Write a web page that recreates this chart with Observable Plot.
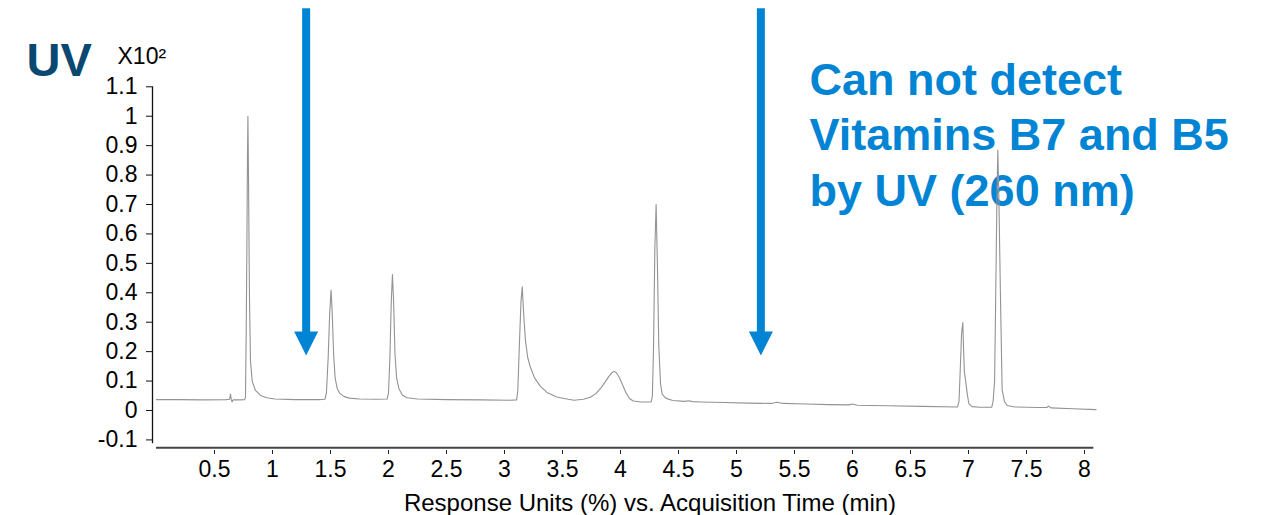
<!DOCTYPE html>
<html>
<head>
<meta charset="utf-8">
<script src="https://cdn.jsdelivr.net/npm/d3@7"></script>
<script src="https://cdn.jsdelivr.net/npm/@observablehq/plot@0.6"></script>
<style>
  html, body { margin: 0; padding: 0; background: #ffffff; }
  #chart { width: 1261px; height: 515px; }
</style>
</head>
<body>
<div id="chart"></div>
<script>
// ---- Data (time in min, response x10²) ----
const time = [
  0.00, 0.20, 0.40, 0.60, 0.630, 0.638, 0.645, 0.652, 0.660, 0.70, 0.760,
  0.767, 0.773, 0.779, 0.784, 0.788, 0.793, 0.798, 0.802, 0.810, 0.825, 0.853, 0.897, 0.95, 1.02,
  1.20, 1.40, 1.452,
  1.465, 1.480, 1.493, 1.505, 1.515, 1.527, 1.540, 1.558, 1.58, 1.615, 1.66, 1.75,
  1.90, 1.988,
  2.000, 2.012, 2.024, 2.034, 2.044, 2.056, 2.070, 2.090, 2.12, 2.16, 2.25,
  2.50, 2.80, 3.05, 3.105,
  3.115, 3.128, 3.142, 3.153, 3.165, 3.180, 3.200, 3.225, 3.26, 3.31, 3.37, 3.45, 3.55, 3.60,
  3.68, 3.74, 3.79, 3.83, 3.87, 3.90, 3.925, 3.945, 3.965, 3.99, 4.02, 4.05, 4.08, 4.11, 4.18, 4.265,
  4.275, 4.285, 4.296, 4.307, 4.318, 4.330, 4.345, 4.36, 4.39, 4.45,
  4.55, 4.59, 4.62, 4.70, 4.90, 5.10, 5.30, 5.35, 5.40, 5.60, 5.80, 5.97, 6.00, 6.04, 6.30, 6.60, 6.905,
  6.918, 6.930, 6.940, 6.951, 6.958, 6.965, 6.974, 6.988, 7.003, 7.03, 7.10, 7.20,
  7.212, 7.225, 7.235, 7.245, 7.253, 7.262, 7.275, 7.290, 7.310, 7.334, 7.40,
  7.60, 7.675, 7.69, 7.71, 7.90, 8.10
];
const response = [
  0.037, 0.037, 0.036, 0.037, 0.038, 0.056, 0.036, 0.030, 0.036, 0.036, 0.037,
  0.045, 0.25, 0.55, 0.85, 1.000, 0.80, 0.55, 0.37, 0.17, 0.10, 0.068, 0.051, 0.043, 0.039,
  0.037, 0.037, 0.038,
  0.060, 0.18, 0.33, 0.409, 0.33, 0.19, 0.11, 0.075, 0.058, 0.048, 0.042, 0.039,
  0.038, 0.039,
  0.060, 0.18, 0.37, 0.462, 0.37, 0.19, 0.11, 0.074, 0.052, 0.043, 0.039,
  0.037, 0.036, 0.035, 0.036,
  0.07, 0.22, 0.37, 0.420, 0.33, 0.24, 0.18, 0.145, 0.11, 0.082, 0.060, 0.046, 0.038, 0.035,
  0.038, 0.045, 0.058, 0.076, 0.098, 0.116, 0.128, 0.133, 0.128, 0.112, 0.085, 0.058, 0.040, 0.032, 0.029, 0.029,
  0.05, 0.22, 0.55, 0.700, 0.50, 0.22, 0.09, 0.055, 0.042, 0.034,
  0.031, 0.033, 0.030, 0.029, 0.027, 0.025, 0.024, 0.028, 0.024, 0.022, 0.020, 0.019, 0.022, 0.018, 0.016, 0.014, 0.012,
  0.03, 0.15, 0.26, 0.299, 0.20, 0.13, 0.105, 0.06, 0.023, 0.013, 0.011, 0.011,
  0.03, 0.10, 0.40, 0.72, 0.885, 0.72, 0.40, 0.07, 0.03, 0.017, 0.012,
  0.010, 0.010, 0.015, 0.009, 0.006, 0.003
];

const xTicks = [0.5, 1, 1.5, 2, 2.5, 3, 3.5, 4, 4.5, 5, 5.5, 6, 6.5, 7, 7.5, 8];
const xTickLabels = ["0.5", "1", "1.5", "2", "2.5", "3", "3.5", "4", "4.5", "5", "5.5", "6", "6.5", "7", "7.5", "8"];
const yTicks = [-0.1, 0, 0.1, 0.2, 0.3, 0.4, 0.5, 0.6, 0.7, 0.8, 0.9, 1, 1.1];
const yTickLabels = ["-0.1", "0", "0.1", "0.2", "0.3", "0.4", "0.5", "0.6", "0.7", "0.8", "0.9", "1", "1.1"];

const arrowTimes = [1.29, 5.21];
const noteLines = ["Can not detect", "Vitamins B7 and B5", "by UV (260 nm)"];
const xLabel = "Response Units (%) vs. Acquisition Time (min)";
const panelLabel = "UV";
const scaleLabel = "X10²";

// ---- Build ----
const trace = time.map((t, i) => ({t, v: response[i]}));
const blue = "#0284d4";
const navy = "#0a4872";
const font = '"Liberation Sans", Arial, Helvetica, sans-serif';

// downward arrowhead whose tip sits at the anchor point
const arrowHead = {
  draw(ctx) {
    ctx.moveTo(-12, -24);
    ctx.lineTo(12, -24);
    ctx.lineTo(0, 0);
    ctx.closePath();
  }
};

const xMin = -0.0345, xMax = 8.1;

const chart = Plot.plot({
  width: 1261,
  height: 515,
  marginTop: 86.3,
  marginBottom: 65,
  marginLeft: 152,
  marginRight: 165.4,
  x: {domain: [xMin, xMax]},
  y: {domain: [-0.136, 1.1]},
  style: {fontFamily: font, fontSize: "23px", background: "#ffffff", overflow: "visible", color: "#000"},
  marks: [
    // axes
    Plot.ruleX([xMin], {y1: -0.113, y2: 1.1, stroke: "#111", strokeWidth: 1.3}),
    Plot.ruleY([-0.127], {x1: 0.0, x2: 8.08, stroke: "#444", strokeWidth: 2}),
    Plot.axisY(yTicks, {
      anchor: "left", tickSize: 6, tickPadding: 9, label: null,
      tickFormat: d => yTickLabels[yTicks.indexOf(d)], fontSize: 23, stroke: "#111"
    }),
    Plot.axisX(xTicks, {
      anchor: "bottom", tickSize: 4, tickPadding: 6, label: null,
      tickFormat: d => xTickLabels[xTicks.indexOf(d)], fontSize: 23, stroke: "#222"
    }),
    // axis label
    Plot.text([xLabel], {
      text: d => d, frameAnchor: "bottom-right", dx: -200, dy: 60,
      textAnchor: "end", lineAnchor: "bottom", fontSize: 24, fill: "#000"
    }),
    // panel labels
    Plot.text([panelLabel], {
      text: d => d, frameAnchor: "top-left", dx: -126, dy: -10.5,
      textAnchor: "start", lineAnchor: "bottom", fontSize: 47, fontWeight: "bold", fill: navy
    }),
    Plot.text([scaleLabel], {
      text: d => d, frameAnchor: "top-left", dx: -35, dy: -23.3,
      textAnchor: "start", lineAnchor: "bottom", fontSize: 23, fill: "#000"
    }),
    // arrows
    Plot.ruleX(arrowTimes, {x: d => d, y1: 0.26, y2: 1.365, stroke: blue, strokeWidth: 8}),
    Plot.dot(arrowTimes, {x: d => d, y: 0.187, symbol: arrowHead, fill: blue, stroke: "none", r: 5}),
    // annotation
    Plot.text([noteLines.join("\n")], {
      text: d => d, x: 5.63, y: 0.694, textAnchor: "start", lineAnchor: "bottom",
      lineHeight: 1.24, fontSize: 45, fontWeight: "bold", fill: blue
    }),
    // chromatogram trace
    Plot.line(trace, {x: "t", y: "v", stroke: "#939393", strokeWidth: 1.1, curve: "linear"})
  ]
});

document.getElementById("chart").appendChild(chart);
</script>
</body>
</html>
